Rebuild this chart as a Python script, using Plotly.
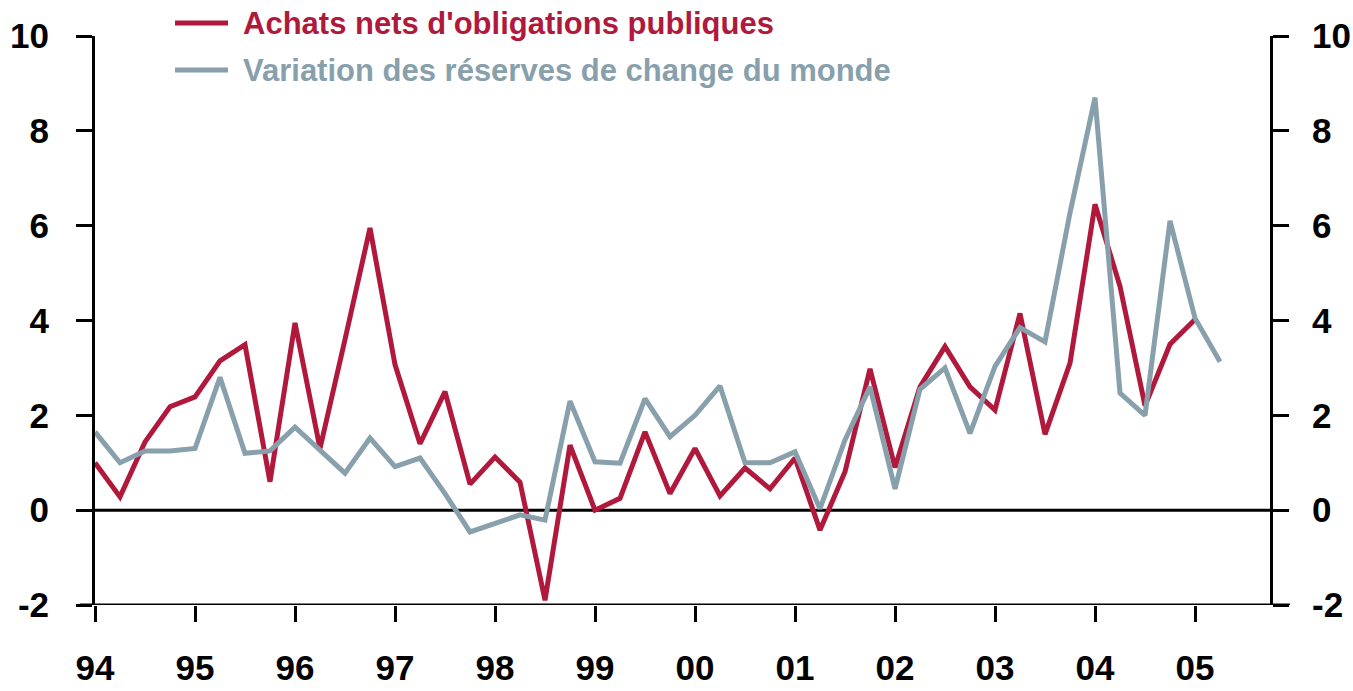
import plotly.graph_objects as go

years = list(range(1994, 2006))
year_labels = ["94", "95", "96", "97", "98", "99", "00", "01", "02", "03", "04", "05"]
quarters = [(y, q) for y in years for q in range(1, 5)]

achats_nets = [
    1.0, 0.28, 1.44, 2.18,
    2.39, 3.15, 3.49, 0.6,
    3.95, 1.3, 3.6, 5.95,
    3.07, 1.4, 2.5, 0.55,
    1.12, 0.59, -1.9, 1.37,
    0.0, 0.25, 1.65, 0.35,
    1.3, 0.3, 0.89, 0.45,
    1.10, -0.42, 0.81, 2.98,
    0.9, 2.6, 3.45, 2.6,
    2.11, 4.15, 1.6, 3.1,
    6.45, 4.72, 2.2, 3.5,
    4.02,
]
reserves_change = [
    1.65, 1.0, 1.25, 1.25,
    1.3, 2.8, 1.2, 1.25,
    1.75, 1.27, 0.78, 1.52,
    0.92, 1.1, 0.35, -0.46,
    -0.27, -0.1, -0.21, 2.3,
    1.02, 0.99, 2.35, 1.55,
    2.0, 2.62, 1.0, 1.0,
    1.23, 0.03, 1.48, 2.6,
    0.45, 2.55, 3.0, 1.62,
    3.03, 3.85, 3.55, 6.27,
    8.7, 2.47, 2.0, 6.1,
    4.05, 3.13,
]
y_ticks = [-2, 0, 2, 4, 6, 8, 10]

name_red = "Achats nets d'obligations publiques"
name_grey = "Variation des réserves de change du monde"
RED = "#B0193C"
GREY = "#87A0AC"
FONT = "Liberation Sans, Arial, sans-serif"

x_all = [y + (q - 1) / 4 for (y, q) in quarters]

fig = go.Figure()
fig.add_trace(go.Scatter(x=x_all[:len(achats_nets)], y=achats_nets, mode="lines",
                         name=name_red, line=dict(color=RED, width=5), showlegend=False))
fig.add_trace(go.Scatter(x=x_all[:len(reserves_change)], y=reserves_change, mode="lines",
                         name=name_grey, line=dict(color=GREY, width=5), showlegend=False,
                         yaxis="y2"))

yaxis_common = dict(range=[-2, 10], tickvals=y_ticks, ticktext=[str(v) for v in y_ticks],
                    showgrid=False, zeroline=False, showline=True, linecolor="black",
                    linewidth=3, ticks="outside", ticklen=16, tickwidth=3, tickcolor="black",
                    automargin=False,
                    tickfont=dict(family=FONT, size=35, color="black", weight="bold"))

fig.update_layout(
    width=1353, height=691,
    margin=dict(l=95, r=83, t=36, b=86, autoexpand=False),
    paper_bgcolor="white", plot_bgcolor="white",
    xaxis=dict(range=[1994, 2005.75], tickvals=years, ticktext=year_labels,
               showgrid=False, zeroline=False, showline=False, automargin=False,
               ticks="outside", ticklen=16, tickwidth=3, tickcolor="black",
               ticklabelstandoff=16,
               tickfont=dict(family=FONT, size=35, color="black", weight="bold")),
    yaxis=dict(**yaxis_common, side="left", ticklabelstandoff=20),
    yaxis2=dict(**yaxis_common, side="right", overlaying="y", ticklabelstandoff=16),
    showlegend=False,
)

# zero line and extended bottom axis line
fig.add_shape(type="line", xref="paper", yref="y", x0=0, x1=1, y0=0, y1=0,
              line=dict(color="black", width=3), layer="below")
fig.add_shape(type="line", xref="paper", yref="y", x0=-0.013, x1=1.017, y0=-2, y1=-2,
              line=dict(color="black", width=3))

# legend drawn manually
for i, (nm, col) in enumerate([(name_red, RED), (name_grey, GREY)]):
    yp = 1.0228 - i * 0.0826
    fig.add_shape(type="line", xref="paper", yref="paper", x0=0.0681, x1=0.1132,
                  y0=yp, y1=yp, line=dict(color=col, width=5))
    fig.add_annotation(xref="paper", yref="paper", x=0.1251, y=yp, text=nm,
                       showarrow=False, xanchor="left", yanchor="middle", borderpad=0,
                       font=dict(family=FONT, size=31, color=col, weight="bold"))

fig.write_html("out.html", config={"displayModeBar": False},
               post_script="document.body.style.margin='0';")
